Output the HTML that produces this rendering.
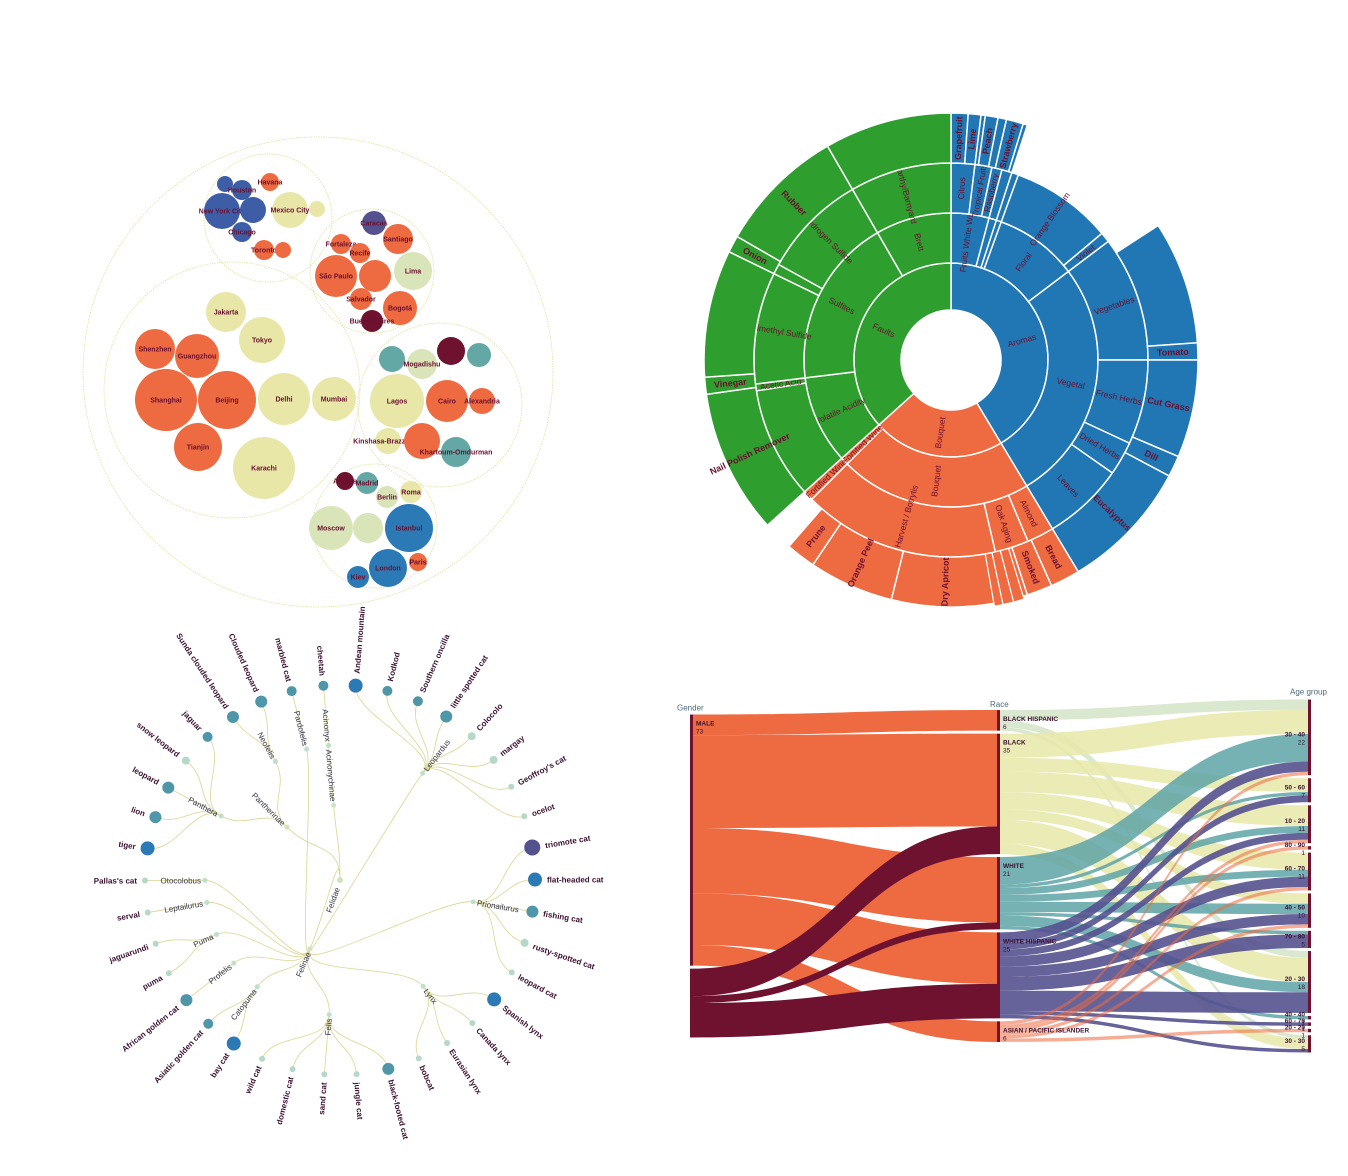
<!DOCTYPE html>
<html><head><meta charset="utf-8"><style>
html,body{margin:0;padding:0;background:#fff;}
svg{display:block;font-family:"Liberation Sans",sans-serif;}
</style></head><body>
<svg id="s" width="1348" height="1176" viewBox="0 0 1348 1176">
<g id="pack"></g>
<g id="sun"></g>
<g id="tree"></g>
<g id="sank"></g>
</svg>
<script>
// ---------- Circle pack data ----------
const cityNames=["Shenzhen","Guangzhou","Shanghai","Beijing","Tianjin","Jakarta","Tokyo","Delhi","Mumbai","Karachi","New York City","","Houston","","Chicago","Havana","Mexico City","","Toronto","","Caracas","Santiago","Fortaleza","Recife","São Paulo","","Lima","Salvador","Bogotá","Buenos Aires","","Mogadishu","","","Lagos","Cairo","Alexandria","Kinshasa-Brazzaville","","Khartoum-Omdurman","Athens","Madrid","Berlin","Roma","Moscow","","Istanbul","London","Kiev","Paris"];
const cityX=[155,197,166,227,198,226,262,284,334,264,222,225,242,253,242,270,290,317,264,283,374,398,341,360,336,375,413,361,400,372,392,422,451,479,397,447,482,388,422,456,345,367,387,411,331,368,409,388,358,418];
const cityY=[349,356,400,400,447,312,340,399,399,468,211,184,190,210,232,182,210,209,250,250,223,239,244,253,276,276,271,299,308,321,359,364,351,355,401,401,401,441,441,452,481,483,497,492,528,528,528,568,577,562];
const cityR=[20,22,31,29,24,20,23,26,22,31,18,8,10,13,10,9,18,8,10,8,12,15,10,10,21,16,19,11,17,11,13,15,14,12,27,21,13,13,18,15,9,11,11,11,22,15,24,19,11,9];
const cityColor=["o","o","o","o","o","c","c","c","c","c","b","b","b","b","b","o","c","c","o","o","p","o","o","o","o","o","pc","o","o","m","t","pc","m","t","c","o","o","c","o","t","m","t","pc","c","pc","pc","sb","sb","sb","o"];
const groupX=[318,232,268,372,440,375];
const groupY=[372,390,218,271,405,526];
const groupR=[235,128,64,62,82,62];
const palette={o:"#ee6a40",c:"#e8e7a8",b:"#3d5ea6",t:"#63a8a4",m:"#6e1230",p:"#55518f",pc:"#d9e4b8",sb:"#2b7ab5"};
(function(){
 const g=document.getElementById('pack');const NS="http://www.w3.org/2000/svg";
 groupR.forEach((r,i)=>{const c=document.createElementNS(NS,'circle');c.setAttribute('cx',groupX[i]);c.setAttribute('cy',groupY[i]);c.setAttribute('r',r);c.setAttribute('fill','none');c.setAttribute('stroke','#e2e0a0');c.setAttribute('stroke-width','0.8');c.setAttribute('stroke-dasharray','1.5,1');
 
 
 g.appendChild(c);});
 cityR.forEach((r,i)=>{const c=document.createElementNS(NS,'circle');c.setAttribute('cx',cityX[i]);c.setAttribute('cy',cityY[i]);c.setAttribute('r',r);c.setAttribute('fill',palette[cityColor[i]]);
 
 
 g.appendChild(c);
 if(cityNames[i]){const t=document.createElementNS(NS,'text');t.setAttribute('x',cityX[i]);t.setAttribute('y',cityY[i]+2.5);t.setAttribute('text-anchor','middle');t.setAttribute('font-size','7');t.setAttribute('font-weight','bold');t.setAttribute('fill','#6b1030');t.textContent=cityNames[i];
 
 
 g.appendChild(t);}});
})();

// ---------- Sunburst data (values in degrees, sequential per ring) ----------
const ring1Labels=["Aromas","Bouquet","Faults"];
const ring1Values=[149,79,132];
const ring1Colors=["b","o","g"];
const ring2Labels=["Fruits White Wine","","","Floral","Vegetal","Bouquet","Fortified Wine","Volatile Acidity","Sulfites","Brett"];
const ring2Values=[15,3,2,33,96,76,3,35,67,30];
const ring3Labels=["Citrus","Tropical Fruits","Raspberry","","","Orange Blossom","Violet","Vegetables","Fresh Herbs","Dried Herbs","Leaves","Almond","Oak Aging","Late Harvest / Botrytis","Fortified Wine","","Acetic Acid","Dimethyl Sulfide","","Hydrogen Sulfide","Earthy/Barnyard"];
const ring3Values=[7,5,3,3,2,30,3,37,25,10,24,8,10,58,3,33,2,33,3,31,30];
const ring4Labels=["Grapefruit","Lime","","Peach","","Strawberry","","#skip","","Tomato","Cut Grass","Dill","Eucalyptus","Bread","Smoked","Nuts","","Dry Apricot","Orange Peel","Prune","#skip","Nail Polish Remover","Vinegar","","Onion","Rubber",""];
const ring4Values=[4,3,1,3,2,4,1,39,29,4,23,5,31,7,6,5,2,25,20,7,7,34,4,30,4,30,30];
(function(){
 const g=document.getElementById('sun');const NS="http://www.w3.org/2000/svg";
 const cx=951,cy=360;const radii=[50,97,147,197,247];
 const col={b:"#2077b4",o:"#ee6a40",g:"#2e9e2e"};
 const bounds=[];let acc=0;ring1Values.forEach((v,i)=>{bounds.push([acc,acc+v,col[ring1Colors[i]]]);acc+=v;});
 function colorAt(a){for(const b of bounds){if(a>=b[0]&&a<b[1])return b[2];}return col.g;}
 function pt(a,r){const t=(a-90)*Math.PI/180;return [cx+r*Math.cos(t),cy+r*Math.sin(t)];}
 function arc(a0,a1,r0,r1){const l=(a1-a0)>180?1:0;const p0=pt(a0,r1),p1=pt(a1,r1),p2=pt(a1,r0),p3=pt(a0,r0);
  return `M${p0}A${r1},${r1} 0 ${l} 1 ${p1}L${p2}A${r0},${r0} 0 ${l} 0 ${p3}Z`;}
 const rings=[[ring1Labels,ring1Values],[ring2Labels,ring2Values],[ring3Labels,ring3Values],[ring4Labels,ring4Values]];
 rings.forEach((rg,ri)=>{let a=0;rg[1].forEach((v,i)=>{const lab=rg[0][i];const a0=a,a1=a+v;a=a1;if(lab==="#skip")return;
  const p=document.createElementNS(NS,'path');p.setAttribute('d',arc(a0,a1,radii[ri],radii[ri+1]));p.setAttribute('fill',colorAt((a0+a1)/2));p.setAttribute('stroke','#fff');p.setAttribute('stroke-width','1.5');
  
  
  g.appendChild(p);
  if(lab){const m=(a0+a1)/2,r=(radii[ri]+radii[ri+1])/2;const t=document.createElementNS(NS,'text');
   t.setAttribute('transform',`translate(${cx},${cy}) rotate(${m-90}) translate(${r},0) rotate(${m<180?0:180})`);
   t.setAttribute('text-anchor','middle');t.setAttribute('dy','3');t.setAttribute('font-size',ri===3?'9':'8.5');
   if(ri===3)t.setAttribute('font-weight','bold');t.setAttribute('fill','#6b1030');t.textContent=lab;
   
   
   g.appendChild(t);}
 });});
 [[163,165.5],[165.5,168],[168,170]].forEach(s=>{const p=document.createElementNS(NS,'path');p.setAttribute('d',arc(s[0],s[1],197,250));p.setAttribute('fill',col.o);p.setAttribute('stroke','#fff');p.setAttribute('stroke-width','1.2');
  
  
  g.appendChild(p);});
})();

// ---------- Radial tree data ----------
const leafNames=["Andean mountain","Kodkod","Southern oncilla","little spotted cat","Colocolo","margay","Geoffroy's cat","ocelot","triomote cat","flat-headed cat","fishing cat","rusty-spotted cat","leopard cat","Spanish lynx","Canada lynx","Eurasian lynx","bobcat","black-footed cat","jungle cat","sand cat","domestic cat","wild cat","bay cat","Asiatic golden cat","African golden cat","puma","jaguarundi","serval","Pallas's cat","tiger","lion","leopard","snow leopard","jaguar","Sunda clouded leopard","Clouded leopard","marbled cat","cheetah"];
const leafGenus=["Leopardus","Leopardus","Leopardus","Leopardus","Leopardus","Leopardus","Leopardus","Leopardus","Prionailurus","Prionailurus","Prionailurus","Prionailurus","Prionailurus","Lynx","Lynx","Lynx","Lynx","Felis","Felis","Felis","Felis","Felis","Catopuma","Catopuma","Profelis","Puma","Puma","Leptailurus","Otocolobus","Panthera","Panthera","Panthera","Panthera","Panthera","Neofelis","Neofelis","Pardofelis","Acinonyx"];
const leafSize=[7,5,5,6,4,4,3,3,8,7,6,4,3,7,3,3,3,6,3,3,3,3,7,5,6,3,3,3,3,7,6,6,4,5,6,6,5,5];
const genusNames=["Leopardus","Prionailurus","Lynx","Felis","Catopuma","Profelis","Puma","Leptailurus","Otocolobus","Panthera","Neofelis","Pardofelis","Acinonyx"];
const genusParent=["Felinae","Felinae","Felinae","Felinae","Felinae","Felinae","Felinae","Felinae","Felinae","Pantherinae","Pantherinae","Felinae","Acinonychinae"];
const subfamilyNames=["Felinae","Pantherinae","Acinonychinae"];
(function(){
 const g=document.getElementById('tree');const NS="http://www.w3.org/2000/svg";
 const cx=340,cy=880,rL=195,rG=135,rS=75;const step=360/leafNames.length,start=4.6;
 function pt(a,r){const t=(a-90)*Math.PI/180;return [cx+r*Math.cos(t),cy+r*Math.sin(t)];}
 const leafA=leafNames.map((n,i)=>start+i*step);
 const genusA=genusNames.map(gn=>{const as=leafA.filter((a,i)=>leafGenus[i]===gn);return as.reduce((s,a)=>s+a,0)/as.length;});
 const subA=subfamilyNames.map(sn=>{const as=genusA.filter((a,i)=>genusParent[i]===sn);return as.reduce((s,a)=>s+a,0)/as.length;});
 function link(a0,r0,a1,r1){const m=(r0+r1)/2;const p0=pt(a0,r0),c1=pt(a0,m),c2=pt(a1,m),p1=pt(a1,r1);
  const p=document.createElementNS(NS,'path');p.setAttribute('d',`M${p0}C${c1} ${c2} ${p1}`);p.setAttribute('fill','none');p.setAttribute('stroke','#d9d690');p.setAttribute('stroke-width','0.8');
  
  
  g.appendChild(p);}
 subA.forEach(a=>link(0,0,a,rS));
 genusA.forEach((a,i)=>link(subA[subfamilyNames.indexOf(genusParent[i])],rS,a,rG));
 leafA.forEach((a,i)=>link(genusA[genusNames.indexOf(leafGenus[i])],rG,a,rL));
 function label(a,r,txt,bold,size,off){const t=document.createElementNS(NS,'text');
  t.setAttribute('transform',`translate(${cx},${cy}) rotate(${a-90}) translate(${r+off},0) rotate(${a<180?0:180})`);
  t.setAttribute('text-anchor',a<180?'start':'end');t.setAttribute('dy','3');t.setAttribute('font-size',size);if(bold)t.setAttribute('font-weight','bold');t.setAttribute('fill',bold?'#3a1030':'#334');t.textContent=txt;return t;}
 function dot(p,r,fill){const c=document.createElementNS(NS,'circle');c.setAttribute('cx',p[0]);c.setAttribute('cy',p[1]);c.setAttribute('r',r);c.setAttribute('fill',fill);return c;}
 const root=dot([cx,cy],3,'#cfe3c0');g.appendChild(root);
 const rl=label(200,8,'Felidae',false,8,0);g.appendChild(rl);
 subA.forEach((a,i)=>{const c=dot(pt(a,rS),2.5,'#cfe3c0');g.appendChild(c);
  const t=label(a,rS,subfamilyNames[i],false,8,4);g.appendChild(t);});
 genusA.forEach((a,i)=>{const c=dot(pt(a,rG),2.5,'#bfe0c8');g.appendChild(c);
  const t=label(a,rG,genusNames[i],false,8,4);g.appendChild(t);});
 leafA.forEach((a,i)=>{const s=leafSize[i];const fill=leafGenus[i]==='Prionailurus'&&s===8?'#55518f':s>=7?'#2b7ab5':s>=5?'#4f97a8':'#b5d9c6';
  const c=dot(pt(a,rL),s,fill);g.appendChild(c);
  const t=label(a,rL,leafNames[i],true,8,s+5);g.appendChild(t);});
})();

// ---------- Sankey data ----------
const genderNames=["MALE","FEMALE"];
const raceNames=["BLACK HISPANIC","BLACK","WHITE","WHITE HISPANIC","ASIAN / PACIFIC ISLANDER"];
const ageNames=["30 - 40","50 - 60","10 - 20","80 - 90","60 - 70","40 - 50","70 - 80","20 - 30","40 - 40","60 - 70","20 - 20","30 - 30"];
const genderRaceLinks=[[0,0,6],[0,1,27],[0,2,19],[0,3,15],[0,4,6],[1,1,8],[1,2,2],[1,3,10]];
const raceAgeLinks=[[0,0,3],[0,7,2],[0,11,1],
 [1,0,7],[1,1,4],[1,2,6],[1,4,5],[1,5,3],[1,7,7],[1,11,3],
 [2,0,8],[2,1,1],[2,2,2],[2,4,2],[2,5,3],[2,6,1],[2,7,3],[2,8,1],
 [3,0,3],[3,1,2],[3,2,2],[3,4,3],[3,5,3],[3,6,4],[3,7,6],[3,9,1],[3,11,1],
 [4,0,1],[4,2,1],[4,3,1],[4,4,1],[4,5,1],[4,10,1]];
(function(){
 const g=document.getElementById('sank');const NS="http://www.w3.org/2000/svg";
 const k=3.44,pad=3,cyM=876,xs=[690,997,1308],w=3;
 function layout(n,links,side){const vals=new Array(n).fill(0);links.forEach(l=>vals[l[side]]+=l[2]);
  const tot=vals.reduce((a,b)=>a+b,0)*k+(n-1)*pad;let y=cyM-tot/2;return vals.map(v=>{const o={y:y,h:v*k,v:v};y+=v*k+pad;return o;});}
 const gN=layout(2,genderRaceLinks,0),rN=layout(5,genderRaceLinks,1),aN=layout(12,raceAgeLinks,1);
 const gOut=gN.map(n=>n.y),rIn=rN.map(n=>n.y),rOut=rN.map(n=>n.y),aIn=aN.map(n=>n.y);
 function band(x0,y0,x1,y1,h,color,op){const xm=(x0+x1)/2;const p=document.createElementNS(NS,'path');
  p.setAttribute('d',`M${x0},${y0}C${xm},${y0} ${xm},${y1} ${x1},${y1}L${x1},${y1+h}C${xm},${y1+h} ${xm},${y0+h} ${x0},${y0+h}Z`);
  p.setAttribute('fill',color);p.setAttribute('fill-opacity',op);return p;}
 const gCol=["#ee6a40","#6e1230"];
 genderRaceLinks.forEach(l=>{const h=l[2]*k;const p=band(xs[0]+w,gOut[l[0]],xs[1],rIn[l[1]],h,gCol[l[0]],1);gOut[l[0]]+=h;rIn[l[1]]+=h;
  
  
  g.appendChild(p);});
 const rCol=["#cfe2c2","#e8e7a8","#5ea5a6","#55518f","#ee6a40"];
 const rOp=[0.8,0.85,0.85,0.9,0.55];
 raceAgeLinks.forEach(l=>{const h=l[2]*k;const p=band(xs[1]+w,rOut[l[0]],xs[2],aIn[l[1]],h,rCol[l[0]],rOp[l[0]]);rOut[l[0]]+=h;aIn[l[1]]+=h;
  
  
  g.appendChild(p);});
 function nodes(arr,x,names,showVal,nm){arr.forEach((n,i)=>{const r=document.createElementNS(NS,'rect');r.setAttribute('x',x);r.setAttribute('y',n.y);r.setAttribute('width',w);r.setAttribute('height',n.h);r.setAttribute('fill','#6e1230');
  
  
  g.appendChild(r);
  if(showVal){const t=document.createElementNS(NS,'text');const right=x>1200;t.setAttribute('x',right?x-3:x+6);t.setAttribute('y',n.y+(nm==='age'?n.h/2-1:11));t.setAttribute('text-anchor',right?'end':'start');t.setAttribute('font-size','6.5');t.setAttribute('fill','#3a1030');
   const t1=document.createElementNS(NS,'tspan');t1.textContent=names[i];t1.setAttribute('font-weight','bold');t.appendChild(t1);
   const t2=document.createElementNS(NS,'tspan');t2.setAttribute('x',right?x-3:x+6);t2.setAttribute('dy','8');t2.textContent=n.v;t.appendChild(t2);
   
   
   g.appendChild(t);}});}
 nodes(gN.slice(0,1),xs[0],genderNames,true,'gender');nodes(gN.slice(1),xs[0],genderNames.slice(1),false,'gender');
 nodes(rN,xs[1],raceNames,true,'race');nodes(aN,xs[2],ageNames,true,'age');
 [["Gender",677,gN[0].y-4],["Race",990,rN[0].y-3],["Age group",1290,aN[0].y-5]].forEach(c=>{const t=document.createElementNS(NS,'text');t.setAttribute('x',c[1]);t.setAttribute('y',c[2]);t.setAttribute('font-size','8');t.setAttribute('fill','#4a6a78');t.textContent=c[0];
  
  
  g.appendChild(t);});
})();
</script>
</body></html>
